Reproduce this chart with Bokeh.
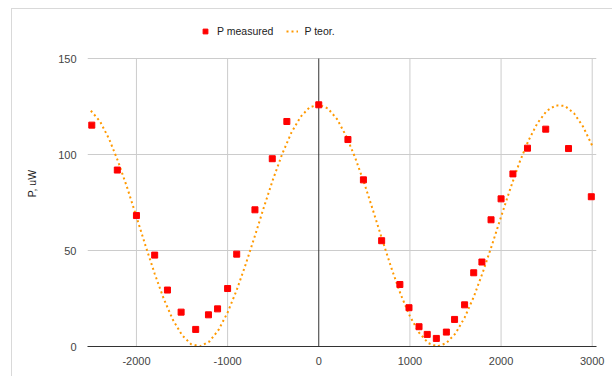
from bokeh.plotting import figure
from bokeh.models import Range1d, FixedTicker, Legend, LegendItem, ColumnDataSource
from bokeh.embed import file_html
from bokeh.resources import INLINE

# measured points
meas_x = [-2490, -2210, -2000, -1800, -1660, -1510, -1350, -1210, -1110, -1000, -900, -700,
          -510, -350, 0, 320, 490, 690, 890, 990, 1100, 1190, 1290, 1400, 1490, 1600, 1700,
          1790, 1890, 2000, 2130, 2290, 2490, 2740, 2990]
meas_y = [115.3, 91.9, 68.2, 47.6, 29.4, 17.9, 8.9, 16.5, 19.6, 30.2, 48.1, 71.2,
          97.8, 117.2, 125.9, 107.8, 86.8, 55.1, 32.3, 20.2, 10.3, 6.3, 4.2, 7.5, 14.1, 21.7, 38.4,
          44.0, 66.0, 76.9, 89.9, 103.3, 113.2, 103.1, 78.0]

# theoretical curve
teor_x = [-2500, -2400, -2300, -2200, -2100, -2000, -1900, -1800, -1700, -1600, -1500, -1400,
          -1300, -1200, -1100, -1000, -900, -800, -700, -600, -500, -400, -300, -200, -100,
          0, 100, 200, 300, 400, 500, 600, 700, 800, 900, 1000, 1100, 1200, 1300, 1400,
          1500, 1600, 1700, 1800, 1900, 2000, 2100, 2200, 2300, 2400, 2500, 2600, 2700,
          2800, 2900, 3000]
teor_y = [122.8, 117.3, 108.1, 96.2, 82.5, 67.6, 52.4, 37.9, 24.8, 13.9, 5.9, 1.2,
          0.1, 2.6, 8.6, 17.7, 29.4, 43.0, 57.7, 72.8, 87.3, 100.4, 111.4, 119.6, 124.6,
          126.0, 124.0, 118.5, 109.7, 98.3, 84.9, 70.2, 55.1, 40.4, 27.0, 15.8, 7.2, 1.8, 0.0, 1.8,
          6.8, 15.0, 25.8, 38.7, 52.8, 67.6, 82.0, 95.6, 107.2, 116.4, 122.7, 125.6, 125.3,
          121.5, 114.5, 104.6]

x_ticks = [-2000, -1000, 0, 1000, 2000, 3000]
x_tick_labels = ["-2000", "-1000", "0", "1000", "2000", "3000"]
y_ticks = [0, 50, 100, 150]
y_max = 150

FONT = "Liberation Sans"

# frame extends above the 150 line so that the legend can sit inside it
p = figure(width=601, height=368, output_backend="svg", toolbar_location=None,
           x_range=Range1d(-2537, 3047), y_range=Range1d(0, 169.8),
           min_border_left=75, min_border_right=17, min_border_top=11, min_border_bottom=31,
           margin=(8, 0, 0, 11))
p.styles = {"border-top": "1px solid #d9d9d9", "border-left": "1px solid #d9d9d9"}
p.outline_line_color = None

p.xaxis.ticker = FixedTicker(ticks=x_ticks)
p.xaxis.major_label_overrides = {t: s for t, s in zip(x_ticks, x_tick_labels)}
p.yaxis.ticker = FixedTicker(ticks=y_ticks)
for ax in (p.xaxis[0], p.yaxis[0]):
    ax.major_tick_line_color = None
    ax.minor_tick_line_color = None
    ax.major_label_text_font = FONT
    ax.major_label_text_font_size = "11px"
    ax.major_label_text_color = "#444444"
p.yaxis.major_label_standoff = 5
p.yaxis.axis_line_color = None
p.xaxis.axis_line_color = "#333333"
p.xaxis.major_label_standoff = 4
p.yaxis.axis_label = "P, uW"
p.yaxis.axis_label_text_font = FONT
p.yaxis.axis_label_text_font_size = "10.5px"
p.yaxis.axis_label_text_font_style = "normal"
p.yaxis.axis_label_text_color = "#222222"
p.yaxis.axis_label_standoff = 17

p.xgrid.grid_line_color = None
p.ygrid.grid_line_color = "#cccccc"

# vertical grid lines, stopping at the top of the value axis
grid_x = [t for t in x_ticks if t != 0]
p.segment(x0=grid_x, y0=[0] * len(grid_x), x1=grid_x, y1=[y_max] * len(grid_x),
          line_color="#cccccc", line_width=1)
p.segment(x0=[0], y0=[0], x1=[0], y1=[y_max], line_color="#333333", line_width=1)

teor_src = ColumnDataSource(dict(x=teor_x, y=teor_y))
meas_src = ColumnDataSource(dict(x=meas_x, y=meas_y))
r_teor = p.line("x", "y", source=teor_src, line_color="#ff9900", line_width=2, line_dash="2 3")
r_meas = p.scatter("x", "y", source=meas_src, marker="square", size=6,
                   fill_color="#ff0000", line_color="#ff0000")

legend = Legend(items=[LegendItem(label="P measured", renderers=[r_meas]),
                       LegendItem(label="P teor.", renderers=[r_teor])],
                orientation="horizontal", location=(112, 306),
                label_text_font=FONT, label_text_font_size="10.5px", label_text_color="#222222",
                glyph_width=12, glyph_height=18, label_height=14, label_standoff=6, spacing=13,
                padding=0, margin=0, border_line_color=None, background_fill_alpha=0)
p.add_layout(legend)

open("out.html", "w").write(file_html(p, INLINE))
